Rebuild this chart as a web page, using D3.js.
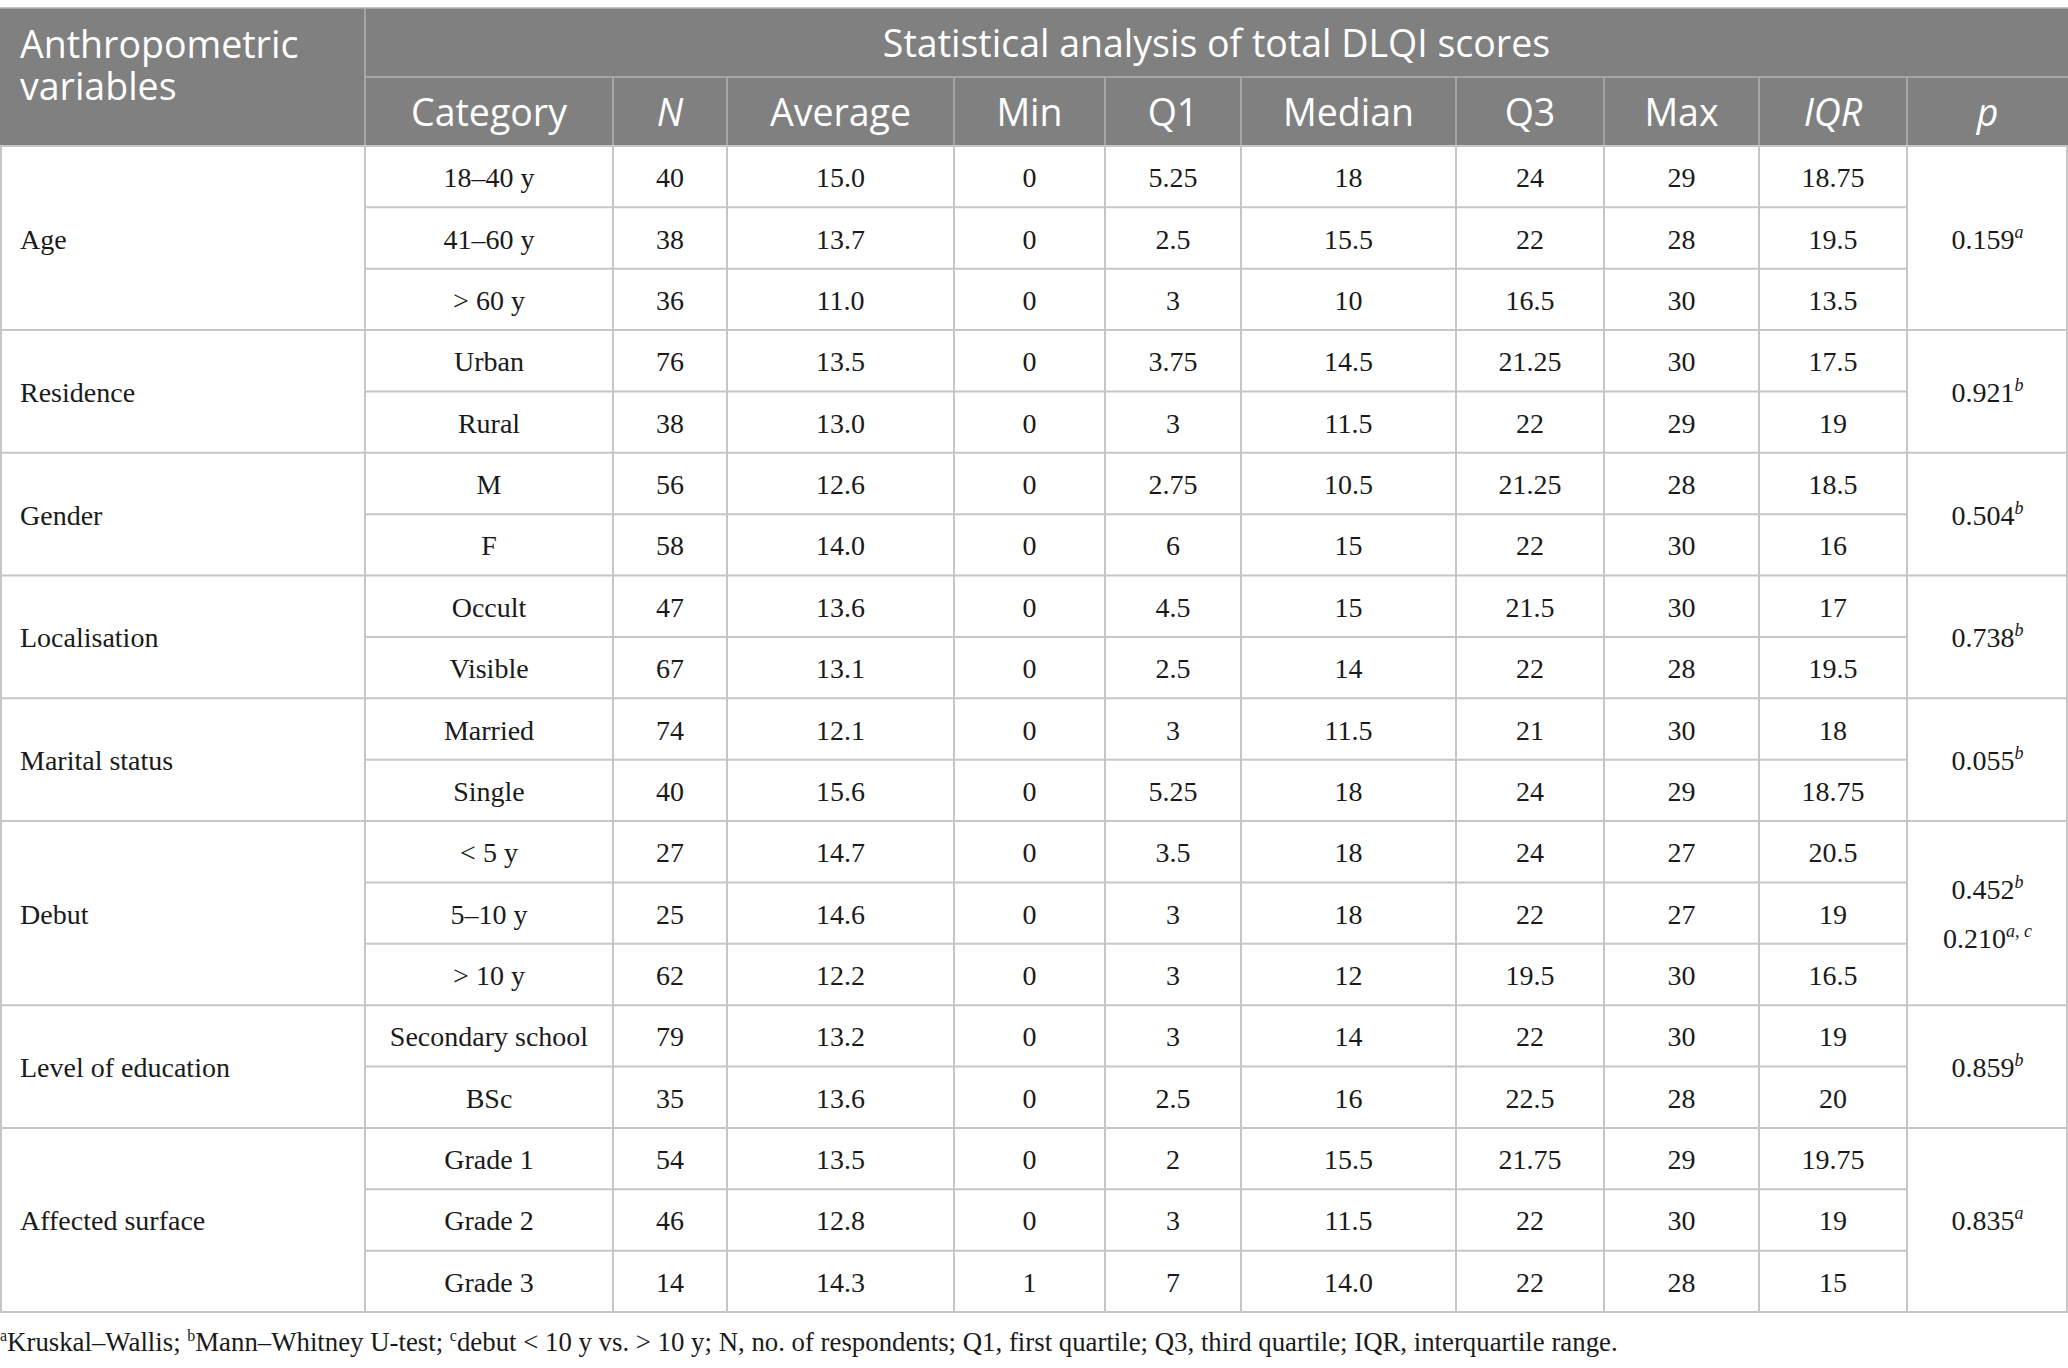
<!DOCTYPE html>
<html>
<head>
<meta charset="utf-8">
<script src="https://cdn.jsdelivr.net/npm/d3@7"></script>
<style>
body { margin: 0; background: #fff; }
svg { display: block; }
.head text { fill: #fff; font-family: "Open Sans", sans-serif; font-size: 37.5px; }
.cell { font-family: "Liberation Serif", serif; font-size: 28px; fill: #1a1a1a; }
.note { font-family: "Liberation Serif", serif; font-size: 26.8px; fill: #1a1a1a; }
</style>
</head>
<body>
<script>
const WIDTH = 2068;
const HEIGHT = 1368;
const TOP = 8;
const HEAD_MID = 77;
const HEAD_BOTTOM = 146;
const BOTTOM = 1312;
const LINE = '#c6c6c6';
const HEAD_FILL = '#808080';
const HEAD_LINE = '#b0b0b0';

// column edges of the table (layout)
const COL_EDGES = [0, 365, 613, 727, 954, 1105, 1241, 1456, 1604, 1759, 1907, 2068];

var titleLeft = ['Anthropometric', 'variables'];
var titleRight = 'Statistical analysis of total DLQI scores';
var columnHeads = ['Category', 'N', 'Average', 'Min', 'Q1', 'Median', 'Q3', 'Max', 'IQR', 'p'];
var italicHeads = ['N', 'IQR', 'p'];

var variables = ['Age', 'Residence', 'Gender', 'Localisation', 'Marital status', 'Debut', 'Level of education', 'Affected surface'];
var groupOf = [0, 0, 0, 1, 1, 2, 2, 3, 3, 4, 4, 5, 5, 5, 6, 6, 7, 7, 7];
var categories = ['18\u201340 y', '41\u201360 y', '> 60 y', 'Urban', 'Rural', 'M', 'F', 'Occult', 'Visible', 'Married', 'Single',
	'< 5 y', '5\u201310 y', '> 10 y', 'Secondary school', 'BSc', 'Grade 1', 'Grade 2', 'Grade 3'];
var nValues = [40, 38, 36, 76, 38, 56, 58, 47, 67, 74, 40, 27, 25, 62, 79, 35, 54, 46, 14];
var averages = ['15.0', '13.7', '11.0', '13.5', '13.0', '12.6', '14.0', '13.6', '13.1', '12.1', '15.6', '14.7', '14.6', '12.2', '13.2', '13.6', '13.5', '12.8', '14.3'];
var minValues = ['0', '0', '0', '0', '0', '0', '0', '0', '0', '0', '0', '0', '0', '0', '0', '0', '0', '0', '1'];
var q1Values = ['5.25', '2.5', '3', '3.75', '3', '2.75', '6', '4.5', '2.5', '3', '5.25', '3.5', '3', '3', '3', '2.5', '2', '3', '7'];
var medians = ['18', '15.5', '10', '14.5', '11.5', '10.5', '15', '15', '14', '11.5', '18', '18', '18', '12', '14', '16', '15.5', '11.5', '14.0'];
var q3Values = ['24', '22', '16.5', '21.25', '22', '21.25', '22', '21.5', '22', '21', '24', '24', '22', '19.5', '22', '22.5', '21.75', '22', '22'];
var maxValues = ['29', '28', '30', '30', '29', '28', '30', '30', '28', '30', '29', '27', '27', '30', '30', '28', '29', '30', '28'];
var iqrValues = ['18.75', '19.5', '13.5', '17.5', '19', '18.5', '16', '17', '19.5', '18', '18.75', '20.5', '19', '16.5', '19', '20', '19.75', '19', '15'];
var pValues = [
	[['0.159', 'a']],
	[['0.921', 'b']],
	[['0.504', 'b']],
	[['0.738', 'b']],
	[['0.055', 'b']],
	[['0.452', 'b'], ['0.210', 'a, c']],
	[['0.859', 'b']],
	[['0.835', 'a']]
];
var footnote = [['a', 'Kruskal\u2013Wallis; '], ['b', 'Mann\u2013Whitney U-test; '],
	['c', 'debut < 10 y vs. > 10 y; N, no. of respondents; Q1, first quartile; Q3, third quartile; IQR, interquartile range.']];

var _yScale, svg;

var colCenter = function(i){ return (COL_EDGES[i] + COL_EDGES[i+1]) / 2; };

var groupRange = function(g){
	var rows = d3.range(groupOf.length).filter(function(i){ return groupOf[i] === g; });
	return [_yScale(rows[0]), _yScale(rows[rows.length-1]) + _yScale.bandwidth()];
};

var createSvg = function(){
	svg = d3.select('body').append('svg')
		.attr('width', WIDTH)
		.attr('height', HEIGHT);
	_yScale = d3.scaleBand().domain(d3.range(categories.length)).range([HEAD_BOTTOM, BOTTOM]);
};

var drawHeader = function(){
	var head = svg.append('g').classed('head', true);
	head.append('rect').attr('x', 0).attr('y', TOP).attr('width', WIDTH).attr('height', HEAD_BOTTOM - TOP).attr('fill', HEAD_FILL);

	var lines = [[0, TOP, WIDTH, TOP], [COL_EDGES[1], TOP, COL_EDGES[1], HEAD_BOTTOM], [COL_EDGES[1], HEAD_MID, WIDTH, HEAD_MID]];
	COL_EDGES.slice(2, -1).forEach(function(x){ lines.push([x, HEAD_MID, x, HEAD_BOTTOM]); });
	head.selectAll('line').data(lines).enter().append('line')
		.attr('x1', function(d){ return d[0]; }).attr('y1', function(d){ return d[1]; })
		.attr('x2', function(d){ return d[2]; }).attr('y2', function(d){ return d[3]; })
		.attr('stroke', HEAD_LINE).attr('stroke-width', 1.5);

	// two-line label kept in one text element
	head.append('text').attr('y', 58)
		.selectAll('tspan').data(titleLeft).enter().append('tspan')
		.attr('x', 20).attr('dy', function(d, i){ return i ? 42 : 0; })
		.text(function(d){ return d; });

	head.append('text').attr('x', (COL_EDGES[1] + WIDTH) / 2).attr('y', 57)
		.attr('text-anchor', 'middle').text(titleRight);

	head.selectAll('text.col').data(columnHeads).enter().append('text')
		.attr('x', function(d, i){ return colCenter(i+1); }).attr('y', 126)
		.attr('text-anchor', 'middle')
		.attr('font-style', function(d){ return italicHeads.indexOf(d) >= 0 ? 'italic' : null; })
		.text(function(d){ return d; });
};

var drawGrid = function(){
	var grid = svg.append('g').attr('stroke', LINE).attr('stroke-width', 2);
	// vertical lines
	COL_EDGES.forEach(function(x, i){
		var xx = i === COL_EDGES.length - 1 ? x - 1 : (i === 0 ? 1 : x);
		grid.append('line').attr('x1', xx).attr('x2', xx).attr('y1', HEAD_BOTTOM).attr('y2', BOTTOM);
	});
	// horizontal lines
	d3.range(categories.length + 1).forEach(function(i){
		var y = i < categories.length ? _yScale(i) : BOTTOM;
		var full = i === 0 || i === categories.length || groupOf[i] !== groupOf[i-1];
		grid.append('line')
			.attr('x1', full ? 0 : COL_EDGES[1])
			.attr('x2', full ? WIDTH : COL_EDGES[10])
			.attr('y1', y).attr('y2', y);
	});
};

var drawBody = function(){
	var columns = [categories, nValues, averages, minValues, q1Values, medians, q3Values, maxValues, iqrValues];
	var body = svg.append('g');
	columns.forEach(function(values, c){
		body.append('g').selectAll('text').data(values).enter().append('text')
			.classed('cell', true)
			.attr('x', colCenter(c+1))
			.attr('y', function(d, i){ return _yScale(i) + _yScale.bandwidth()/2 + 10.5; })
			.attr('text-anchor', 'middle')
			.text(function(d){ return d; });
	});

	body.append('g').selectAll('text').data(variables).enter().append('text')
		.classed('cell', true)
		.attr('x', 20)
		.attr('y', function(d, g){ var r = groupRange(g); return (r[0] + r[1])/2 + 10.5; })
		.text(function(d){ return d; });

	pValues.forEach(function(list, g){
		var r = groupRange(g);
		var mid = (r[0] + r[1]) / 2;
		list.forEach(function(p, k){
			var t = body.append('text').classed('cell', true)
				.attr('x', colCenter(10))
				.attr('y', mid + 10.5 + (k - (list.length - 1)/2) * 49)
				.attr('text-anchor', 'middle');
			t.append('tspan').text(p[0]);
			t.append('tspan').attr('font-style', 'italic').attr('font-size', 18)
				.attr('dy', -11).text(p[1]);
		});
	});
};

var drawFootnote = function(){
	var t = svg.append('text').classed('note', true).attr('x', 0).attr('y', 1351);
	footnote.forEach(function(f){
		t.append('tspan').attr('font-size', 16).attr('dy', -10).text(f[0]);
		t.append('tspan').attr('dy', 10).text(f[1]);
	});
};

window.onload = function(){
	createSvg();
	drawHeader();
	drawGrid();
	drawBody();
	drawFootnote();
};
</script>
</body>
</html>
